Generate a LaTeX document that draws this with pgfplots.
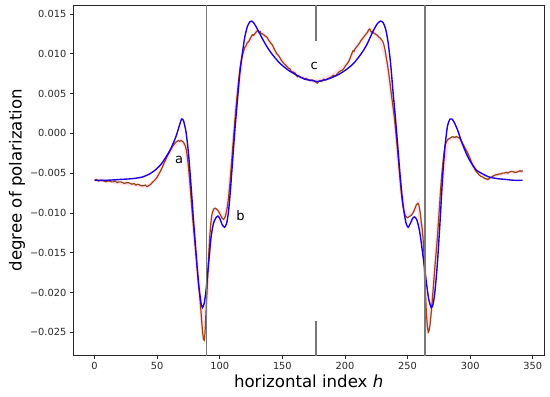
\documentclass[border=0pt]{standalone}
\usepackage{pgfplots}
\pgfplotsset{compat=1.18}
\usepackage{fontspec}
\setmainfont{DejaVu Sans}
\definecolor{fitblue}{RGB}{34,0,220}
\definecolor{measbrown}{RGB}{152,68,22}
\definecolor{halo}{RGB}{255,190,215}
\definecolor{vgray}{RGB}{120,120,120}
\definecolor{spine}{RGB}{40,40,40}
\begin{document}
\begin{tikzpicture}
\begin{axis}[
  at={(0,0)}, anchor=south west,
  scale only axis, width=470.7bp, height=350.7bp,
  xmin=-17, xmax=359, ymin=-0.02794, ymax=0.01612,
  axis line style={line width=0.8bp, spine},
  tick align=outside, major tick length=3.5bp,
  tick style={line width=0.8bp, spine},
  xtick={0,50,100,150,200,250,300,350},
  xticklabels={0,50,100,150,200,250,300,350},
  ytick={-0.025,-0.020,-0.015,-0.010,-0.005,0,0.005,0.010,0.015},
  yticklabels={−0.025,−0.020,−0.015,−0.010,−0.005,0.000,0.005,0.010,0.015},
  scaled y ticks=false, scaled x ticks=false,
  xtick pos=bottom, ytick pos=left,
  tick label style={font=\fontsize{9.8bp}{11bp}\selectfont, text=spine},
  xlabel={horizontal index \textit{h}},
  ylabel={degree of polarization},
  label style={font=\fontsize{16.6bp}{19bp}\selectfont, text=black},
  xlabel style={yshift=2bp},
  ylabel style={yshift=-2bp},
  clip=true,
]
% halo under measured curve
\addplot[halo, line width=3.5bp, opacity=0.45, forget plot] coordinates {
(0,-0.0059)(6,-0.0059)(15,-0.0061)(24,-0.0063)(33,-0.0065)(42,-0.0067)(48.6,-0.0058)(56.6,-0.0034)(63,-0.0015)(69,-0.0009)(72.5,-0.0016)(76,-0.0060)(80,-0.0135)(84,-0.0205)(87,-0.0259)(89,-0.0225)(92,-0.0130)(95,-0.0096)(98,-0.0096)(103,-0.0108)(106,-0.0093)(110,-0.0025)(114,0.0050)(118,0.0098)(124,0.0118)(130,0.0129)(137.6,0.0121)(145.5,0.0100)(154.8,0.0082)(164,0.0071)(176,0.0065)(190.6,0.0073)(202,0.0088)(210,0.0110)(219.8,0.0131)(227,0.0121)(233,0.0095)(239.7,0.0017)(245,-0.0075)(249,-0.0105)(255,-0.0098)(258.3,-0.0088)(262.3,-0.0130)(266.5,-0.0250)(270,-0.0205)(276,-0.0080)(282,-0.0008)(290,-0.0005)(296.8,-0.0021)(304.8,-0.0048)(314,-0.0058)(320.7,-0.0052)(342,-0.0047)
};
% measured curve
\addplot[measbrown, line width=1.2bp] coordinates {
(0,-0.0059)(1.5,-0.0058)(3,-0.0060)(4.5,-0.0059)(6,-0.0059)(7.5,-0.0060)(9,-0.0061)(10.5,-0.0060)(12,-0.0060)(13.5,-0.0061)(15,-0.0061)(16.5,-0.0060)(18,-0.0062)(19.5,-0.0061)(21,-0.0061)(22.5,-0.0062)(24,-0.0063)(25.5,-0.0062)(27,-0.0062)(28.5,-0.0063)(30,-0.0064)(31.5,-0.0063)(33,-0.0065)(34.5,-0.0064)(36,-0.0065)(37.5,-0.0066)(39,-0.0066)(40.5,-0.0065)(42,-0.0067)(43,-0.0066)(44,-0.0065)(45,-0.0064)(46,-0.0062)(47.3,-0.0060)(48.6,-0.0058)(50,-0.0055)(51,-0.0052)(52.5,-0.0048)(54,-0.0043)(55.3,-0.0038)(56.6,-0.0034)(58,-0.0029)(59,-0.0026)(60,-0.0023)(61,-0.0020)(62,-0.0017)(63,-0.0015)(64,-0.0013)(65,-0.0011)(66,-0.0010)(67,-0.0009)(68,-0.0010)(69,-0.0009)(70,-0.0010)(71,-0.0011)(72.5,-0.0016)(73.3,-0.0021)(74,-0.0028)(75,-0.0042)(76,-0.0060)(77,-0.0080)(78,-0.0100)(79,-0.0118)(80,-0.0135)(81,-0.0152)(82,-0.0170)(83,-0.0188)(84,-0.0205)(84.8,-0.0220)(85.5,-0.0235)(86.3,-0.0250)(87,-0.0259)(87.6,-0.0260)(88,-0.0255)(88.5,-0.0242)(89,-0.0225)(89.8,-0.0200)(90.5,-0.0175)(91.2,-0.0152)(92,-0.0130)(92.8,-0.0114)(93.5,-0.0104)(94.2,-0.0099)(95,-0.0096)(95.8,-0.0094)(96.5,-0.0094)(97.2,-0.0095)(98,-0.0096)(99,-0.0098)(100,-0.0101)(101,-0.0104)(102,-0.0107)(103,-0.0108)(103.8,-0.0107)(104.5,-0.0104)(105.3,-0.0099)(106,-0.0093)(107,-0.0081)(108,-0.0065)(109,-0.0045)(110,-0.0025)(111,-0.0005)(112,0.0015)(113,0.0033)(114,0.0050)(115,0.0066)(116,0.0080)(117,0.0090)(118,0.0098)(119,0.0103)(120,0.0108)(121,0.0110)(122,0.0114)(123,0.0115)(124,0.0118)(125,0.0121)(126,0.0124)(127,0.0123)(128,0.0125)(129,0.0127)(130,0.0129)(130.8,0.0128)(131.5,0.0127)(132.2,0.0128)(133,0.0125)(134,0.0125)(135,0.0124)(136.3,0.0122)(137.6,0.0121)(139,0.0117)(140,0.0115)(141,0.0113)(142,0.0111)(143.5,0.0106)(145.5,0.0100)(146.8,0.0098)(148,0.0095)(149.5,0.0091)(151,0.0088)(153,0.0085)(154.8,0.0082)(156,0.0081)(157,0.0078)(158.5,0.0077)(160,0.0076)(161,0.0073)(162,0.0071)(163,0.0072)(164,0.0071)(165,0.0070)(166,0.0070)(167,0.0069)(168,0.0068)(169,0.0069)(170,0.0068)(171,0.0067)(172,0.0066)(173,0.0067)(174,0.0067)(175,0.0066)(176,0.0065)(177,0.0064)(178,0.0063)(179,0.0065)(180,0.0066)(181,0.0065)(182,0.0066)(183,0.0068)(184,0.0067)(185,0.0067)(186,0.0068)(187,0.0069)(188,0.0070)(189.3,0.0071)(190.6,0.0073)(191.8,0.0072)(193,0.0073)(194.5,0.0076)(196,0.0078)(197.5,0.0079)(199,0.0081)(200.5,0.0085)(202,0.0088)(203,0.0090)(204,0.0094)(205.2,0.0099)(206.5,0.0104)(207.2,0.0103)(208,0.0106)(209,0.0108)(210,0.0110)(211.5,0.0113)(213,0.0117)(214,0.0119)(215,0.0121)(216,0.0123)(217,0.0125)(218,0.0127)(219,0.0130)(219.8,0.0131)(220.5,0.0129)(221,0.0127)(222,0.0128)(223,0.0126)(224,0.0125)(225,0.0124)(226,0.0123)(227,0.0121)(228,0.0120)(229,0.0118)(230,0.0116)(231,0.0112)(232,0.0105)(233,0.0095)(234,0.0086)(235,0.0075)(236,0.0063)(237,0.0050)(238.3,0.0034)(239.7,0.0017)(240.3,0.0006)(241,-0.0005)(242,-0.0022)(243,-0.0040)(244,-0.0058)(245,-0.0075)(246,-0.0088)(247,-0.0098)(248,-0.0103)(249,-0.0105)(250,-0.0106)(251,-0.0105)(252,-0.0104)(253,-0.0103)(254,-0.0101)(255,-0.0098)(256,-0.0094)(257,-0.0090)(258.3,-0.0088)(259,-0.0090)(259.5,-0.0094)(260.2,-0.0101)(261,-0.0112)(261.7,-0.0120)(262.3,-0.0130)(263,-0.0148)(263.5,-0.0170)(264.2,-0.0198)(265,-0.0225)(265.8,-0.0242)(266.5,-0.0250)(267.2,-0.0248)(268,-0.0240)(269,-0.0224)(270,-0.0205)(271,-0.0185)(272,-0.0165)(273,-0.0147)(274,-0.0128)(275,-0.0104)(276,-0.0080)(277,-0.0058)(278,-0.0040)(279,-0.0026)(280,-0.0015)(281,-0.0011)(282,-0.0008)(283,-0.0007)(284,-0.0006)(285,-0.0005)(286,-0.0004)(287,-0.0005)(288,-0.0005)(289,-0.0004)(290,-0.0005)(291.5,-0.0006)(292.8,-0.0009)(294,-0.0013)(295.4,-0.0017)(296.8,-0.0021)(298.4,-0.0026)(300,-0.0032)(301,-0.0036)(302,-0.0040)(303.4,-0.0044)(304.8,-0.0048)(306,-0.0050)(307,-0.0052)(308.5,-0.0054)(310,-0.0055)(311,-0.0056)(312,-0.0057)(313,-0.0057)(314,-0.0058)(315,-0.0057)(316,-0.0056)(317,-0.0055)(318,-0.0054)(319.3,-0.0053)(320.7,-0.0052)(322,-0.0052)(323,-0.0051)(324.5,-0.0051)(326,-0.0050)(327.3,-0.0050)(328.7,-0.0049)(330,-0.0050)(331,-0.0049)(332.5,-0.0048)(334,-0.0048)(335.5,-0.0049)(337,-0.0049)(338.5,-0.0048)(340,-0.0047)(341,-0.0048)(342,-0.0047)
};
% fitted curve
\addplot[fitblue, line width=1.4bp, smooth, tension=0.4] coordinates {
(0,-0.0059)(10,-0.0059)(20,-0.0058)(30,-0.0057)(38,-0.0055)(44,-0.0051)(48.6,-0.0046)(53,-0.0039)(57,-0.0030)(61,-0.0019)(65,-0.0004)(68,0.0011)(69.5,0.0018)(71,0.0016)(73,0.0002)(75,-0.0025)(77,-0.0065)(79,-0.0109)(81,-0.0150)(83,-0.0188)(85,-0.0213)(86.2,-0.0219)(87.5,-0.0214)(89,-0.0198)(91,-0.0165)(93,-0.0131)(95,-0.0113)(97,-0.0106)(98.5,-0.0104)(100,-0.0107)(102,-0.0115)(103.8,-0.0118)(105.5,-0.0113)(107,-0.0098)(108.5,-0.0072)(110,-0.0040)(112,0.0003)(114,0.0040)(116,0.0075)(118,0.0100)(120,0.0121)(122,0.0134)(124,0.0140)(125.5,0.0141)(127,0.0139)(129,0.0134)(131,0.0128)(134,0.0119)(137.6,0.0109)(142,0.0099)(148,0.0088)(155,0.0079)(161.5,0.0073)(168,0.0068)(175,0.0066)(177.5,0.0065)(181,0.0066)(188,0.0069)(195,0.0074)(201,0.0080)(207,0.0088)(213,0.0100)(217,0.0110)(220,0.0120)(223,0.0130)(226,0.0138)(228.5,0.0141)(230.5,0.0139)(232.5,0.0131)(234.4,0.0115)(236.5,0.0087)(238.4,0.0052)(240,0.0025)(242,-0.0013)(244,-0.0052)(246,-0.0085)(247.7,-0.0104)(249,-0.0114)(250.5,-0.0118)(252,-0.0114)(254,-0.0107)(255.6,-0.0105)(257.5,-0.0109)(259.5,-0.0122)(261,-0.0138)(263,-0.0162)(265,-0.0187)(267,-0.0209)(269,-0.0219)(270.5,-0.0214)(272,-0.0197)(274,-0.0160)(276,-0.0110)(278,-0.0055)(280,-0.0015)(282,0.0010)(284,0.0018)(285.5,0.0018)(287.5,0.0013)(290,0.0004)(293,-0.0010)(296.8,-0.0025)(300,-0.0035)(304.8,-0.0046)(310,-0.0051)(315.4,-0.0055)(322,-0.0057)(328.7,-0.0058)(335,-0.0059)(342,-0.0059)
};
% vertical marker lines
\addplot[vgray, line width=1.3bp] coordinates {(89.5,-0.03)(89.5,0.02)};
\addplot[vgray, line width=1.3bp] coordinates {(264,-0.03)(264,0.02)};
\addplot[vgray, line width=1.3bp] coordinates {(176.75,0.01163)(176.75,0.02)};
\addplot[vgray, line width=1.3bp] coordinates {(176.75,-0.03)(176.75,-0.02354)};
\node[font=\fontsize{13bp}{15bp}\selectfont] at (axis cs:67.5,-0.0034) {a};
\node[font=\fontsize{13bp}{15bp}\selectfont] at (axis cs:116.5,-0.0104) {b};
\node[font=\fontsize{13bp}{15bp}\selectfont] at (axis cs:175.5,0.0084) {c};
\end{axis}
\pgfresetboundingbox
\path[use as bounding box] (-73.3bp,-41.3bp) rectangle (476.7bp,355.7bp);
\end{tikzpicture}
\end{document}
